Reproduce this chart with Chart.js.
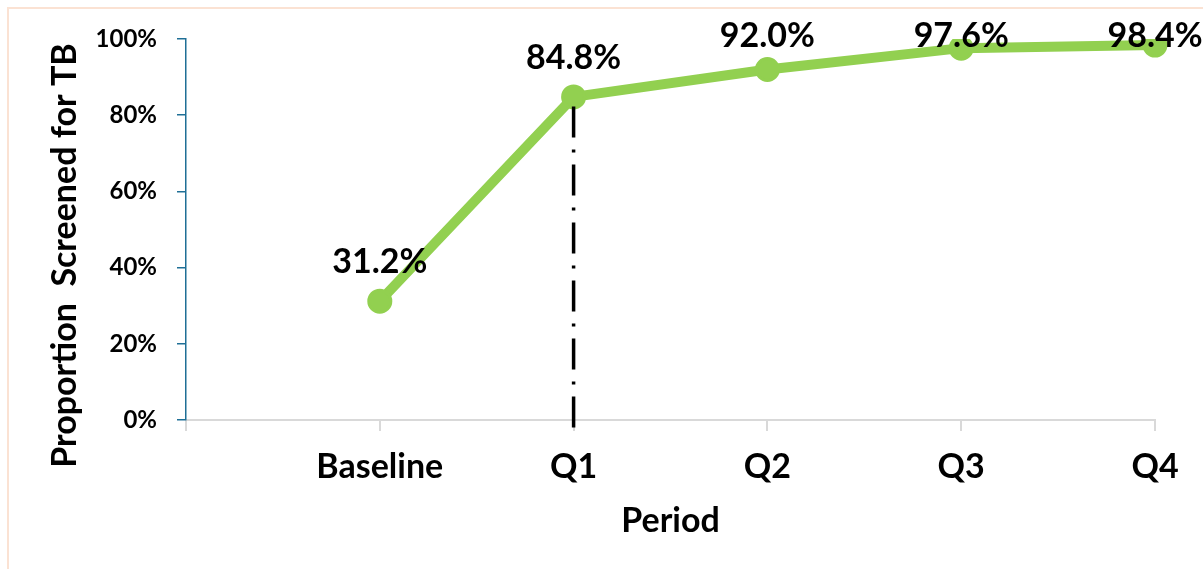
<!DOCTYPE html>
<html>
<head>
<meta charset="utf-8">
<script src="https://cdn.jsdelivr.net/npm/chart.js@4"></script>
<style>
  body { margin: 0; background: #fff; }
  #frame { position: absolute; left: 7px; top: 7px; width: 1300px; height: 700px;
           border-left: 2px solid #fbe2d3; border-top: 2px solid #fbe2d3; }
  #wrap { position: absolute; left: 0; top: 0; width: 1203px; height: 569px; }
</style>
</head>
<body>
<div id="frame"></div>
<div id="wrap"><canvas id="chart"></canvas></div>
<script>
// data
const periods = ["", "Baseline", "Q1", "Q2", "Q3", "Q4"];
const screened = [null, 31.2, 84.8, 92.0, 97.6, 98.4];
// dash-dot marker at Q1, from just below the axis up to the Q1 point
const markerPeriod = "Q1";
const markerY = [-2, 84.8];
const yTickStep = 20;

const FONT = "Lato";

// labels above points, kept inside the top of the plot
const pointLabels = {
  id: "pointLabels",
  afterDatasetsDraw(chart) {
    const ctx = chart.ctx;
    const meta = chart.getDatasetMeta(1);
    const top = chart.chartArea.top;
    ctx.save();
    ctx.font = "bold 34px " + FONT;
    ctx.fillStyle = "#000";
    ctx.textAlign = "center";
    ctx.textBaseline = "middle";
    meta.data.forEach((pt, i) => {
      const v = screened[i];
      if (v == null) return;
      const y = Math.max(pt.y - 39, top - 3);
      ctx.fillText(v.toFixed(1) + "%", pt.x, y);
    });
    ctx.restore();
  },
};

// y axis title sits a bit below the middle of the axis
const yTitle = {
  id: "yTitle",
  afterDraw(chart) {
    const ctx = chart.ctx;
    const a = chart.chartArea;
    ctx.save();
    ctx.translate(65, (a.top + a.bottom) / 2 + 26);
    ctx.rotate(-Math.PI / 2);
    ctx.font = "bold 34px " + FONT;
    ctx.fillStyle = "#000";
    ctx.textAlign = "center";
    ctx.textBaseline = "middle";
    ctx.fillText("Proportion  Screened for TB", 0, 0);
    ctx.restore();
  },
};

const chart = document.querySelector("#chart");

new Chart(chart, {
  type: "line",
  data: {
    labels: periods,
    datasets: [
      {
        label: "marker",
        data: markerY.map((y) => ({ x: markerPeriod, y: y })),
        borderColor: "#000",
        borderWidth: 3.5,
        borderDash: [31, 12, 3, 12],
        pointRadius: 0,
        clip: false,
        order: 0,
      },
      {
        label: "Proportion screened",
        data: screened,
        borderColor: "#92d050",
        backgroundColor: "#92d050",
        borderWidth: 10,
        pointRadius: 11,
        pointBorderWidth: 3,
        pointBorderColor: "#92d050",
        pointBackgroundColor: "#92d050",
        order: 1,
      },
    ],
  },
  options: {
    responsive: true,
    maintainAspectRatio: false,
    animation: false,
    layout: { padding: { top: 39, right: 48, left: 0, bottom: 0 } },
    plugins: {
      legend: { display: false },
      tooltip: { enabled: false },
    },
    scales: {
      x: {
        afterFit: (s) => { s.height = 149; },
        grid: { drawOnChartArea: false, color: "#d9d9d9", lineWidth: 2, tickLength: 11 },
        border: { color: "#d9d9d9", width: 2 },
        ticks: { color: "#000", padding: 16, maxRotation: 0, autoSkip: false,
                 font: { family: FONT, size: 34, weight: "bold" } },
        title: { display: true, text: "Period", color: "#000", padding: { top: 0, bottom: 28 },
                 font: { family: FONT, size: 34, weight: "bold" } },
      },
      y: {
        min: 0,
        max: 100,
        afterFit: (s) => { s.width = 186; },
        grid: { drawOnChartArea: false, color: "#1f6f96", lineWidth: 1.5, tickLength: 9 },
        border: { color: "#1f6f96", width: 1.5 },
        ticks: { stepSize: yTickStep, color: "#000", padding: 20,
                 callback: (v) => v + "%",
                 font: { family: FONT, size: 24, weight: "bold" } },
      },
    },
  },
  plugins: [pointLabels, yTitle],
});
</script>
</body>
</html>
